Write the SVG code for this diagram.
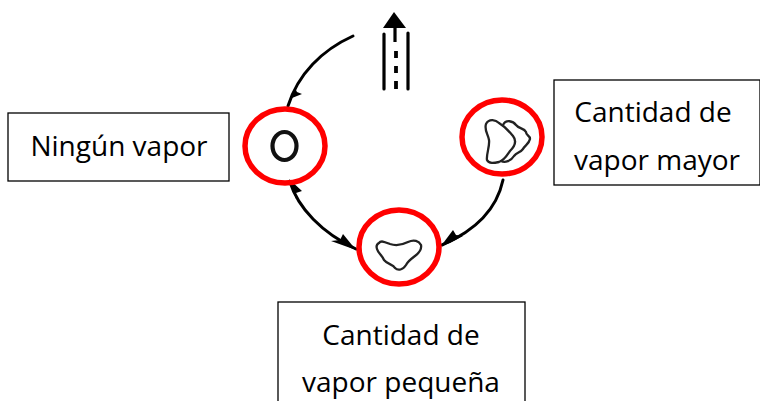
<svg xmlns="http://www.w3.org/2000/svg" width="760" height="401" viewBox="0 0 760 401">
<style>
.box{fill:#fff;stroke:#000;stroke-width:1.3}
.ring{fill:none;stroke:#f00;stroke-width:5.5}
.t{font-family:"Open Sans","Noto Sans",sans-serif;font-size:28px;fill:#000;text-anchor:middle}
.line{fill:none;stroke:#000;stroke-width:3;stroke-linecap:round}
.blob{fill:none;stroke:#222;stroke-width:2.3}
.head{fill:#000;stroke:none}
</style>
<rect width="760" height="401" fill="#fff"/>
<g id="connectors">
<path class="line" d="M353 36 C322 50 298 74 288 106"/>
<path class="head" d="M287 108 L295 88 L297 92 L302 94 L292 98 Z"/>
<path class="line" d="M290 182 C298 208 322 233 356 249"/>
<path class="head" d="M289 179 L302 191 L296 193 L296 199 Z"/>
<path class="head" d="M356 250 L343 234 L340 240 L331 241 Z"/>
<path class="line" d="M503 180 C497 208 477 230 442 245"/>
<path class="head" d="M441 246 L453 230 L456 235 L463 236 L450 243 Z"/>
</g>
<g id="road">
<path class="head" d="M394 12 L406 28 L383 28 Z"/>
<path d="M395 26 V42" fill="none" stroke="#000" stroke-width="3.2"/>
<path d="M384 34 V89 M408 33 V89" fill="none" stroke="#000" stroke-width="3.2" stroke-linecap="round"/>
<path d="M396 51 V58 M396 66 V73 M396 81 V89" fill="none" stroke="#000" stroke-width="3.8"/>
</g>
<g id="node-ninguno">
<rect class="box" x="8" y="113" width="221" height="68"/>
<text class="t" x="119" y="156">Ningún vapor</text>
<ellipse class="ring" cx="285" cy="146" rx="40" ry="37"/>
<ellipse cx="284.500" cy="146" rx="12" ry="14" fill="none" stroke="#111" stroke-width="4.2"/>
</g>
<g id="node-mayor">
<rect class="box" x="554" y="80" width="206" height="105"/>
<text class="t" x="653" y="122">Cantidad de</text>
<text class="t" x="657" y="170">vapor mayor</text>
<ellipse class="ring" cx="502" cy="137" rx="40" ry="37"/>
<path class="blob" d="M486 124 C489 118 496 120 499 123 C504 126 509 131 513 136 C517 141 515 146 510 151 C507 155 505 160 499 162 C494 163 489 164 487 160 C486 155 490 146 489 140 C488 134 484 130 486 124 Z"/>
<path class="blob" d="M503 125 C506 119 513 121 516 125 C519 129 524 128 526 132 C526 136 530 135 530 139 C529 144 525 145 523 149 C520 153 517 152 514 156 C511 161 505 163 501 161"/>
</g>
<g id="node-pequena">
<rect class="box" x="278" y="302" width="247" height="110"/>
<text class="t" x="401" y="345">Cantidad de</text>
<text class="t" x="401" y="392">vapor pequeña</text>
<ellipse class="ring" cx="399" cy="247" rx="40" ry="37"/>
<path class="blob" d="M379 243 C381 240 385 242 390 244 C396 246 402 245 408 242 C414 239 419 241 421 245 C422 250 419 253 415 256 C411 259 408 261 406 265 C403 270 398 271 395 268 C393 264 388 265 384 260 C382 255 378 253 377 249 C376 246 377 244 379 243 Z"/>
</g>
</svg>
